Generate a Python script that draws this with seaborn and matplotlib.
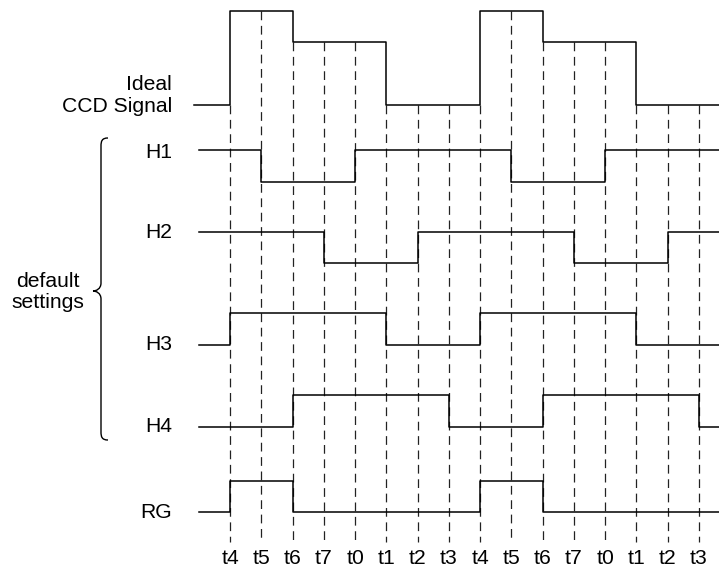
import numpy as np
import pandas as pd
import seaborn as sns
import matplotlib.pyplot as plt
from matplotlib.path import Path
from matplotlib.patches import PathPatch

# tick labels along the bottom (two clock cycles)
tick_labels = ['t4', 't5', 't6', 't7', 't0', 't1', 't2', 't3',
               't4', 't5', 't6', 't7', 't0', 't1', 't2', 't3']

# signal levels in each slot: slot -1 (before first t4), then one per tick
ccd = [0, 1, 1, 0.67, 0.67, 0.67, 0, 0, 0, 1, 1, 0.67, 0.67, 0.67, 0, 0, 0]
h1 = [1, 1, 0, 0, 0, 1, 1, 1, 1, 1, 0, 0, 0, 1, 1, 1, 1]
h2 = [1, 1, 1, 1, 0, 0, 0, 1, 1, 1, 1, 1, 0, 0, 0, 1, 1]
h3 = [0, 1, 1, 1, 1, 1, 0, 0, 0, 1, 1, 1, 1, 1, 0, 0, 0]
h4 = [0, 0, 0, 1, 1, 1, 1, 1, 0, 0, 0, 1, 1, 1, 1, 1, 0]
rg = [0, 1, 1, 0, 0, 0, 0, 0, 0, 1, 1, 0, 0, 0, 0, 0, 0]

names = ['Ideal\nCCD Signal', 'H1', 'H2', 'H3', 'H4', 'RG']
signals = [ccd, h1, h2, h3, h4, rg]

# layout (pixel rows, tick spacing)
x0_pix, dx_pix = 230.2, 31.25
W, H = 719, 571
row_base = [104.7, 181.7, 263.0, 345.0, 426.7, 512.3]
row_amp = [93.4, 31.4, 30.7, 31.7, 31.4, 31.3]
row_start = [-1.16, -1.0, -1.0, -1.0, -1.0, -1.0]
label_y = [107, 152, 232, 345, 427, 513]
FS = 15.2


def px(xp):
    return (xp - x0_pix) / dx_pix


xmin, xmax = px(0), px(W)

plt.rcParams['font.family'] = ['Liberation Sans', 'DejaVu Sans']
fig = plt.figure(figsize=(W / 100, H / 100), dpi=100)
ax = fig.add_axes([0, 0, 1, 1])

rows = []
for name, lev, start in zip(names, signals, row_start):
    xs = [start] + list(range(0, 16)) + [xmax]
    ys = lev + [lev[-1]]
    for x, y in zip(xs, ys):
        rows.append({'signal': name, 'x': x, 'level': y})
df = pd.DataFrame(rows)
base_map = dict(zip(names, row_base))
amp_map = dict(zip(names, row_amp))
df['y'] = df['signal'].map(base_map) - df['signal'].map(amp_map) * df['level']

# dashed timing lines, starting from the CCD signal at each edge
for i in range(16):
    lv = min(ccd[i], ccd[i + 1])
    ytop = row_base[0] - row_amp[0] * lv
    ax.vlines(i, ytop, 542, colors='#222222', lw=0.9,
              linestyles=(0, (7, 4.5)), zorder=1)
    ax.text(i, 559, tick_labels[i], ha='center', va='center', fontsize=FS)

for name in names:
    sns.lineplot(data=df[df['signal'] == name], x='x', y='y', ax=ax,
                 drawstyle='steps-post', color='black', lw=1.1,
                 estimator=None, sort=False, zorder=3)

# signal labels
ax.text(px(172), 84, 'Ideal', ha='right', va='center', fontsize=FS)
ax.text(px(172), 107, 'CCD Signal', ha='right', va='center', fontsize=FS)
for name, ly in zip(names[1:], label_y[1:]):
    ax.text(px(172), ly, name, ha='right', va='center', fontsize=FS)

# curly brace around H1..H4
bx, tip, hx = 101, 93, 108
top, mid, bot = 138, 291, 440
verts = [(hx, top), (bx + 1, top), (bx, top + 3), (bx, top + 8),
         (bx, mid - 8),
         (bx, mid - 2), (tip + 3, mid), (tip, mid),
         (tip + 3, mid), (bx, mid + 2), (bx, mid + 8),
         (bx, bot - 8),
         (bx, bot - 3), (bx + 1, bot), (hx, bot)]
codes = [Path.MOVETO, Path.CURVE4, Path.CURVE4, Path.CURVE4,
         Path.LINETO,
         Path.CURVE4, Path.CURVE4, Path.CURVE4,
         Path.CURVE4, Path.CURVE4, Path.CURVE4,
         Path.LINETO,
         Path.CURVE4, Path.CURVE4, Path.CURVE4]
verts = [(px(x), y) for x, y in verts]
ax.add_patch(PathPatch(Path(verts, codes), fill=False, color='black', lw=1.0))
ax.text(px(48), 292, 'default\nsettings', ha='center', va='center',
        fontsize=FS, linespacing=1.1)

ax.set_xlim(xmin, xmax)
ax.set_ylim(H, 0)
ax.set_xlabel('')
ax.set_ylabel('')
ax.axis('off')

fig.savefig('out.png', dpi=100)
